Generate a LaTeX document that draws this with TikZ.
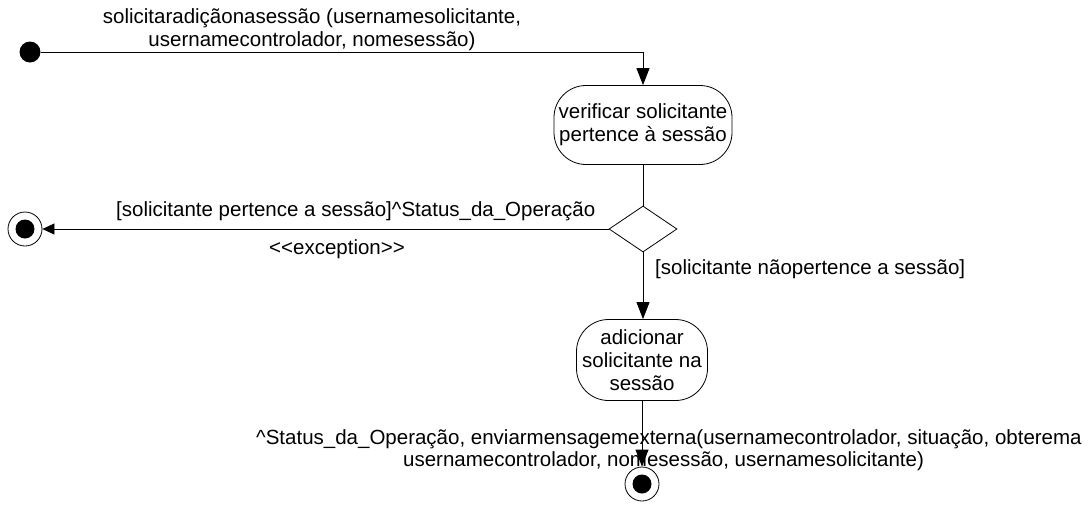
\documentclass[tikz,border=0pt]{standalone}
\usepackage{fontspec}
\setmainfont{Liberation Sans}
\usetikzlibrary{arrows.meta,shapes.geometric}
\begin{document}
\begin{tikzpicture}[x=1pt,y=-1pt,
  every node/.style={font=\fontsize{20.5}{23}\selectfont},
  lbl/.style={inner sep=0pt},
  activity/.style={draw, line width=0.8pt, rounded corners=32pt, align=center, inner sep=0pt},
  initstate/.style={circle, fill=black, minimum size=21pt, inner sep=0pt},
  finalstate/.style={circle, draw, line width=0.8pt, minimum size=34pt, inner sep=0pt,
    path picture={\fill (path picture bounding box.center) circle (9.5pt);}},
  decision/.style={diamond, draw, line width=0.8pt, minimum width=68pt, minimum height=46pt, inner sep=0pt},
  flow/.style={draw, line width=0.8pt, -{Triangle[length=17pt,width=13pt]}},
  flowsmall/.style={draw, line width=0.8pt, -{Triangle[length=12pt,width=11pt]}},
  plain/.style={draw, line width=0.8pt}]
\useasboundingbox (0,0) rectangle (1088,504);
\clip (0,0) rectangle (1088,504);

\node[initstate] (start) at (30,52) {};
\coordinate (bend) at (643,52);
\node[activity, minimum width=178pt, minimum height=79pt] (a1) at (643,125) {verificar solicitante\\pertence à sessão};
\node[decision] (d) at (643,229) {};
\node[finalstate] (f1) at (25,229) {};
\node[activity, minimum width=131pt, minimum height=81pt] (a2) at (642,360) {adicionar\\solicitante na\\sessão};
\node[finalstate] (f2) at (642,484) {};

\draw[flow] (start) -- (bend) -- (a1.north);
\draw[plain] (a1) -- (d);
\draw[flowsmall] (d.west) -- (f1);
\draw[flow] (d.south) -- (d.south |- a2.north);
\draw[flow] (a2) -- (f2);

\node[lbl, align=center, anchor=south] (ltop) at (312,51) {solicitaradiçãonasessão (usernamesolicitante,\\usernamecontrolador, nomesessão)};
\node[lbl, anchor=base west] (lyes) at (116,216) {[solicitante pertence a sessão]\textasciicircum Status\_da\_Operação};
\node[lbl] (lexc) at (337,249) {<{}<exception>{}>};
\node[lbl, anchor=base west] (lno) at (655,274) {[solicitante nãopertence a sessão]};
\node[lbl, anchor=base west] (lend1) at (256,444) {\textasciicircum Status\_da\_Operação, enviarmensagemexterna(usernamecontrolador, situação, obterema};
\node[lbl, anchor=base west] (lend2) at (403,466) {usernamecontrolador, nomesessão, usernamesolicitante)};
\end{tikzpicture}
\end{document}
